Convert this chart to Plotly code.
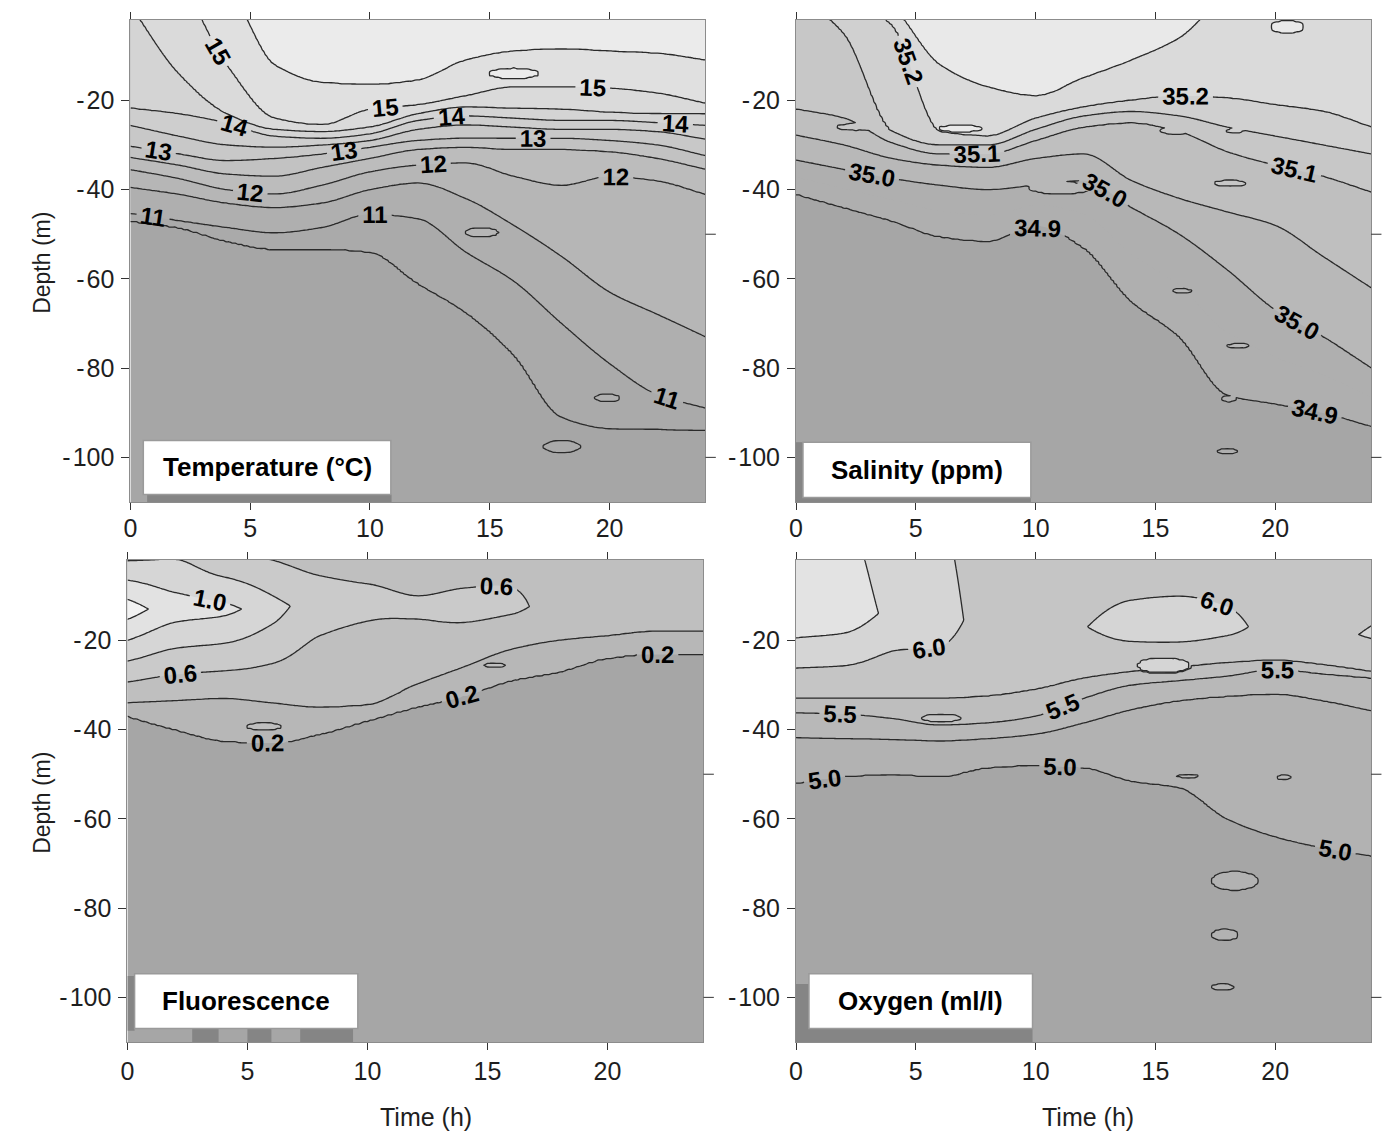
import numpy as np
import plotly.graph_objects as go

# ---------------------------------------------------------------
# Time of the sampling cycle (h) at which every profile is given
# ---------------------------------------------------------------
TIME = [0, 2, 4, 6, 8, 10, 12, 14, 16, 18, 20, 22, 24]

# Temperature (°C): depth (m) of each isotherm; positive = surfaced
T15_5 = [8, 8, 5, -12, -16, -16.5, -15.5, -11, -9, -8.5, -9, -9.5, -11]
T15_0 = [6, 5, -12, -24, -25.5, -22, -21, -19, -17, -17, -17.3, -18.4, -20.7]
T14_5 = [1.5, -14, -23, -26.5, -27, -26, -23, -21.5, -21.8, -22, -22.7, -23, -23]
T14_0 = [-21.8, -23, -25, -28, -28.5, -27.5, -24.5, -23.5, -24, -24.5, -24.5, -25, -25.6]
T13_5 = [-25.6, -28, -30, -30.5, -30, -29, -26.5, -25.5, -26, -26.5, -26.5, -27, -28.7]
T13_0 = [-30.3, -32, -33.5, -33, -32, -30.5, -29, -28.5, -28.5, -28.5, -29, -30, -32.4]
T12_5 = [-32.8, -34.5, -36.5, -37, -35, -33, -31, -30.5, -31, -31, -31.5, -33, -35.4]
T12_0 = [-35.5, -37.5, -40, -41, -39, -36, -34.5, -34, -37, -39, -37, -38, -41]
T11_5 = [-39.5, -41, -43, -44, -43, -40, -38.5, -42, -48, -55, -63, -68, -73]
T11_0 = [-45.4, -47, -48.5, -49.7, -48.5, -45.5, -46.5, -54, -60.5, -70, -79, -86, -89]
T10_5 = [-47, -48.5, -51.5, -53.3, -53.3, -54, -61, -67.5, -77, -91, -93.5, -93.7, -93.8]
TEMP_LEVELS = [15.5, 15.0, 14.5, 14.0, 13.5, 13.0, 12.5, 12.0, 11.5, 11.0, 10.5]
# closed patches: (time h, depth m, half-width h, half-height m, enclosing isotherm)
TEMP_LENSES = [(16.0, -14.0, 1.1, 1.3, 15.5), (14.65, -49.6, 0.75, 1.1, 11.5),
               (19.9, -86.7, 0.55, 1.0, 11.0), (18.0, -97.6, 0.8, 1.4, 10.5)]

# Salinity (ppm): depth (m) of each isohaline
S35_25 = [8, 8, 1, -12, -17, -19, -15, -11, -6, 3, 5, 5, 5]
S35_20 = [5, 3, -3, -27, -28, -24, -21.5, -20, -19, -19.5, -21, -22.5, -26]
S35_15 = [4, -5, -27, -30, -30, -26.5, -23.5, -22.5, -23.5, -26, -28, -30, -32]
S35_10 = [-22, -24, -29.5, -32, -32, -29, -26, -25, -27, -31.5, -34.5, -37, -40.5]
S35_05 = [-27.8, -30, -33, -34.5, -35, -33, -32, -38, -42, -45, -48, -55, -62]
S35_00 = [-33.4, -35.5, -37.5, -39, -40, -39, -38, -44, -50, -58, -67, -73, -80]
S34_90 = [-41, -44, -47, -50.5, -51.5, -48, -53, -65, -73, -86, -88, -90, -93]
SAL_LEVELS = [35.25, 35.20, 35.15, 35.10, 35.05, 35.00, 34.90]
SAL_LENSES = [(2.5, -26.0, 0.87, 0.8, 35.1), (6.85, -26.3, 0.95, 0.9, 35.25),
              (15.8, -26.8, 0.6, 0.8, 35.1), (18.3, -26.9, 0.35, 0.5, 35.15),
              (18.1, -38.6, 0.7, 0.8, 35.1), (20.5, -3.5, 0.75, 1.5, 35.25),
              (11.05, -39.7, 1.35, 1.4, 35.0), (16.1, -62.7, 0.45, 0.6, 35.0),
              (18.45, -75.0, 0.55, 0.6, 35.0), (18.05, -86.9, 0.3, 0.55, 34.9),
              (18.0, -98.6, 0.5, 0.6, 34.9)]

# Fluorescence: surface value, subsurface maximum, and two deep isolines
F_SURF = [0.7, 0.75, 0.6, 0.55, 0.5, 0.5, 0.5, 0.52, 0.55, 0.55, 0.55, 0.52, 0.5]
F_PEAK_DEPTH = [-13, -13, -13, -13, -11, -11, -13, -13.5, -13, -11, -9, -8, -8]
F_PEAK = [1.3, 1.1, 1.05, 0.88, 0.7, 0.65, 0.63, 0.65, 0.63, 0.55, 0.55, 0.55, 0.55]
F0_4 = [-34, -33.5, -33, -34, -35, -34.5, -30, -26, -22, -20, -19, -18, -18]
F0_2 = [-37, -40, -42.5, -43, -41, -38, -35, -32.5, -29, -27, -24, -23, -23]
FLU_LENSES = [(5.7, -39.3, 0.8, 0.9, 0.4), (15.3, -25.6, 0.45, 0.6, 0.4)]

# Oxygen (ml/l): surface value, subsurface maximum, and deeper isolines
O_SURF = [6.3, 6.3, 6.12, 6.05, 5.85, 5.82, 5.78, 5.78, 5.78, 5.78, 5.78, 5.8, 5.85]
O_PEAK_DEPTH = [-14, -14, -14, -16, -15, -15, -17, -17, -17, -17, -17, -18, -19]
O_PEAK = [6.45, 6.4, 6.2, 6.12, 5.9, 5.88, 5.99, 6.12, 6.15, 6.08, 5.92, 5.95, 6.02]
O5_75 = [-33, -33, -33, -33, -32.5, -31, -28.5, -27, -26, -25, -24.5, -25.5, -27]
O5_50 = [-36.2, -36.5, -37.5, -39, -38.5, -37, -33, -30, -29, -28, -26.5, -27.5, -28.4]
O5_25 = [-41.8, -42, -42.2, -42.5, -42, -41, -38.5, -35.5, -33.5, -32.5, -32, -33.5, -35.7]
O5_00 = [-52, -50.5, -50, -50.5, -48.5, -48, -48.5, -51.5, -53, -60, -64, -66.5, -68.3]
OXY_LENSES = [(6.05, -37.4, 0.85, 1.0, 5.75), (15.35, -25.6, 1.15, 1.8, 6.0),
              (16.35, -50.4, 0.5, 0.5, 5.25), (20.35, -50.7, 0.35, 0.6, 5.25),
              (18.3, -73.9, 1.0, 2.2, 5.0), (17.9, -86.0, 0.6, 1.35, 5.0),
              (17.8, -97.7, 0.5, 0.8, 5.0)]

X_TICKS = [0, 5, 10, 15, 20]
Y_TICKS = [-20, -40, -60, -80, -100]
PANEL_TITLES = ["Temperature (°C)", "Salinity (ppm)", "Fluorescence", "Oxygen (ml/l)"]

# ---------------------------------------------------------------
# Gridded sections built from the profile control points
# ---------------------------------------------------------------
t_grid = np.linspace(0, 24, 193)
d_grid = np.linspace(-112, 2, 381)
T_MESH, D_MESH = np.meshgrid(t_grid, d_grid)
n_t = len(TIME)


def pchip(x, y, xi):
    """Shape-preserving piecewise cubic (Fritsch-Carlson) through the knots."""
    x = np.asarray(x, float)
    y = np.asarray(y, float)
    h = np.diff(x)
    delta = np.diff(y) / h
    m = np.zeros(len(x))
    for k in range(1, len(x) - 1):
        if delta[k - 1] * delta[k] > 0:
            w1 = 2 * h[k] + h[k - 1]
            w2 = h[k] + 2 * h[k - 1]
            m[k] = (w1 + w2) / (w1 / delta[k - 1] + w2 / delta[k])
    m[0], m[-1] = delta[0], delta[-1]
    idx = np.clip(np.searchsorted(x, xi, side="right") - 1, 0, len(x) - 2)
    s = (xi - x[idx]) / h[idx]
    h00 = 2 * s**3 - 3 * s**2 + 1
    h10 = s**3 - 2 * s**2 + s
    h01 = -2 * s**3 + 3 * s**2
    h11 = s**3 - s**2
    return h00 * y[idx] + h10 * h[idx] * m[idx] + h01 * y[idx + 1] + h11 * h[idx] * m[idx + 1]


def section(points, lenses, step):
    """points: list of (depth_row, value_row); scalars are held constant in time.
    lenses: closed patches lifted just above their enclosing level."""
    deps = np.array([pchip(TIME, np.broadcast_to(np.asarray(d, float), n_t), t_grid) for d, _ in points])
    vals = np.array([pchip(TIME, np.broadcast_to(np.asarray(v, float), n_t), t_grid) for _, v in points])
    z = np.empty((len(d_grid), len(t_grid)))
    for j in range(len(t_grid)):
        order = np.argsort(deps[:, j])
        z[:, j] = np.interp(d_grid, deps[order, j], vals[order, j])
    for tc, dc, hw, hh, lev in lenses:
        r2 = ((T_MESH - tc) / hw) ** 2 + ((D_MESH - dc) / hh) ** 2
        inside = r2 < 1
        z[inside] = np.maximum(z[inside], lev + 0.4 * step * (1 - r2[inside]))
    return np.round(z, 4)


temp_rows = [T15_5, T15_0, T14_5, T14_0, T13_5, T13_0, T12_5, T12_0, T11_5, T11_0, T10_5]
z_temp = section([(12, 15.9)] + list(zip(temp_rows, TEMP_LEVELS)) + [(-125, 10.2)], TEMP_LENSES, 0.5)

sal_rows = [S35_25, S35_20, S35_15, S35_10, S35_05, S35_00, S34_90]
z_sal = section([(12, 35.3)] + list(zip(sal_rows, SAL_LEVELS)) + [(-125, 34.85)], SAL_LENSES, 0.05)

z_flu = section([(0, F_SURF), (F_PEAK_DEPTH, F_PEAK), (F0_4, 0.4), (F0_2, 0.2), (-125, 0.1)],
                FLU_LENSES, 0.2)

z_oxy = section([(0, O_SURF), (O_PEAK_DEPTH, O_PEAK), (O5_75, 5.75), (O5_50, 5.5),
                 (O5_25, 5.25), (O5_00, 5.0), (-125, 4.85)], OXY_LENSES, 0.25)


def stepped(colors):
    n = len(colors) - 1
    scale = []
    for i, c in enumerate(colors):
        scale.append([max(0.0, (i - 0.5) / n), c])
        scale.append([min(1.0, (i + 0.5) / n), c])
    return scale


PANELS = [
    dict(z=z_temp, fill=(10.5, 15.5, 0.5), labeled=(11, 15, 1), plain=(10.5, 15.5, 1), fmt=".0f",
         colors=["#a6a6a6", "#aaaaaa", "#afafaf", "#b6b6b6", "#bcbcbc", "#c2c2c2", "#c8c8c8",
                 "#cecece", "#d4d4d4", "#dadada", "#e0e0e0", "#ebebeb"],
         box=(0.54, 10.87, -108.3, -96.2), shadow=[(0.7, 10.9, -110, -108.3)]),
    dict(z=z_sal, fill=(34.9, 35.25, 0.05), labeled=(34.9, 35.2, 0.1), plain=(35.05, 35.25, 0.1), fmt=".1f",
         colors=["#a6a6a6", "#afafaf", "#afafaf", "#b8b8b8", "#bfbfbf", "#c7c7c7", "#d0d0d0",
                 "#dadada", "#e9e9e9"],
         box=(0.29, 9.8, -109.0, -96.6), shadow=[(0, 0.29, -110, -96.6), (0, 9.8, -110, -109.0)]),
    dict(z=z_flu, fill=(0.2, 1.2, 0.2), labeled=(0.2, 1.0, 0.4), plain=(0.4, 1.2, 0.4), fmt=".1f",
         colors=["#a6a6a6", "#b7b7b7", "#bfbfbf", "#cacaca", "#d6d6d6", "#e2e2e2", "#f2f2f2"],
         box=(0.3, 9.6, -107.0, -94.7),
         shadow=[(0, 0.3, -107.5, -95.2), (2.7, 3.8, -110, -107.0), (5.0, 6.0, -110, -107.0),
                 (7.2, 9.4, -110, -107.0)]),
    dict(z=z_oxy, fill=(5.0, 6.25, 0.25), labeled=(5.0, 6.0, 0.5), plain=(5.25, 6.25, 0.5), fmt=".1f",
         colors=["#a6a6a6", "#b2b2b2", "#b8b8b8", "#bebebe", "#c5c5c5", "#d5d5d5", "#e3e3e3"],
         box=(0.54, 9.87, -107.0, -94.7), shadow=[(0, 0.54, -110, -97.0), (0, 9.87, -110, -107.0)]),
]

# The labelled-line traces list extra (empty) levels beyond the data range:
# plotly spaces labels more densely when a trace has more levels.
LABEL_PAD = 30

W, H = 1393, 1136
X_DOMAINS = [(124 / W, 702 / W), (793 / W, 1371 / W), (121 / W, 700 / W), (793 / W, 1371 / W)]
Y_DOMAINS = [(1 - 502 / H, 1 - 20 / H), (1 - 502 / H, 1 - 20 / H),
             (1 - 1042 / H, 1 - 560 / H), (1 - 1042 / H, 1 - 560 / H)]

TICK_FONT = dict(family="Liberation Sans, Arial", size=25, color="#1e1e1e")
LINE_COLOR = "#2a2a2a"
STIPPLE = "#858585"

fig = go.Figure()
layout = dict(width=W, height=H, margin=dict(l=0, r=0, t=0, b=0),
              paper_bgcolor="white", plot_bgcolor="white", showlegend=False, hovermode=False)
shapes, annotations = [], []

for k, p in enumerate(PANELS):
    xa = "x" if k == 0 else f"x{k + 1}"
    ya = "y" if k == 0 else f"y{k + 1}"
    s0, s1, ds = p["fill"]
    fig.add_trace(go.Contour(
        x=t_grid, y=d_grid, z=p["z"], xaxis=xa, yaxis=ya,
        contours=dict(start=s0, end=s1, size=ds, coloring="fill", showlines=False),
        colorscale=stepped(p["colors"]), showscale=False,
        line=dict(width=0, smoothing=1), hoverinfo="skip"))
    a0, a1, da = p["plain"]
    fig.add_trace(go.Contour(
        x=t_grid, y=d_grid, z=p["z"], xaxis=xa, yaxis=ya,
        contours=dict(start=a0, end=a1, size=da, coloring="none"),
        showscale=False, line=dict(color=LINE_COLOR, width=1.3, smoothing=1), hoverinfo="skip"))
    l0, l1, dl = p["labeled"]
    fig.add_trace(go.Contour(
        x=t_grid, y=d_grid, z=p["z"], xaxis=xa, yaxis=ya,
        contours=dict(start=l0 - LABEL_PAD * dl, end=l1 + LABEL_PAD * dl, size=dl,
                      coloring="none", showlabels=True, labelformat=p["fmt"],
                      labelfont=dict(family="Liberation Sans, Arial", size=24, color="black",
                                     weight="bold")),
        showscale=False, line=dict(color=LINE_COLOR, width=1.3, smoothing=1), hoverinfo="skip"))

    key_x = "xaxis" if k == 0 else f"xaxis{k + 1}"
    key_y = "yaxis" if k == 0 else f"yaxis{k + 1}"
    layout[key_x] = dict(domain=X_DOMAINS[k], anchor=ya, range=[0, 24], tickvals=X_TICKS,
                         ticks="outside", ticklen=7, tickwidth=1, tickcolor="#333",
                         ticklabelstandoff=-3 if k < 2 else 0,
                         showline=True, linecolor="#8c8c8c", linewidth=1, mirror="ticks",
                         showgrid=False, zeroline=False, tickfont=TICK_FONT)
    layout[key_y] = dict(domain=Y_DOMAINS[k], anchor=xa, range=[-110, -2], tickvals=Y_TICKS,
                         ticktext=["-\u200a" + str(-v) for v in Y_TICKS],
                         ticks="outside", ticklen=8, tickwidth=1, tickcolor="#333",
                         ticklabelstandoff=2,
                         showline=True, linecolor="#8c8c8c", linewidth=1, mirror=True,
                         showgrid=False, zeroline=False, tickfont=TICK_FONT)

    # short ticks on the right-hand frame
    for yv in (-50, -100):
        shapes.append(dict(type="line", xref=f"{xa} domain", yref=ya, x0=1.0, x1=1.018,
                           y0=yv, y1=yv, line=dict(color="#333", width=1)))

    # title box with its hatched shadow
    for x0, x1, y0, y1 in p["shadow"]:
        shapes.append(dict(type="rect", xref=xa, yref=ya, x0=x0, x1=x1, y0=y0, y1=y1,
                           fillcolor=STIPPLE, line=dict(width=0), layer="above"))
    bx0, bx1, by0, by1 = p["box"]
    shapes.append(dict(type="rect", xref=xa, yref=ya, x0=bx0, x1=bx1, y0=by0, y1=by1,
                       fillcolor="white", line=dict(color="#9a9a9a", width=1.5), layer="above"))
    annotations.append(dict(xref=xa, yref=ya, x=(bx0 + bx1) / 2, y=(by0 + by1) / 2, showarrow=False,
                            xanchor="center", yanchor="middle",
                            text="<b>" + PANEL_TITLES[k] + "</b>",
                            font=dict(family="Liberation Sans, Arial", size=26, color="black")))

for yc in (1 - 263 / H, 1 - 803 / H):
    annotations.append(dict(xref="paper", yref="paper", x=35 / W, y=yc, textangle=-90,
                            xanchor="center", yanchor="middle",
                            showarrow=False, text="Depth (m)",
                            font=dict(family="Liberation Sans, Arial", size=23, color="#1e1e1e")))
for xc in (421 / W, 1086 / W):
    annotations.append(dict(xref="paper", yref="paper", x=xc, y=1 - 1117 / H, showarrow=False,
                            xanchor="center", yanchor="middle", text="Time (h)",
                            font=dict(family="Liberation Sans, Arial", size=25, color="#1e1e1e")))

layout["shapes"] = shapes
layout["annotations"] = annotations
fig.update_layout(**layout)
fig.write_html("out.html")
